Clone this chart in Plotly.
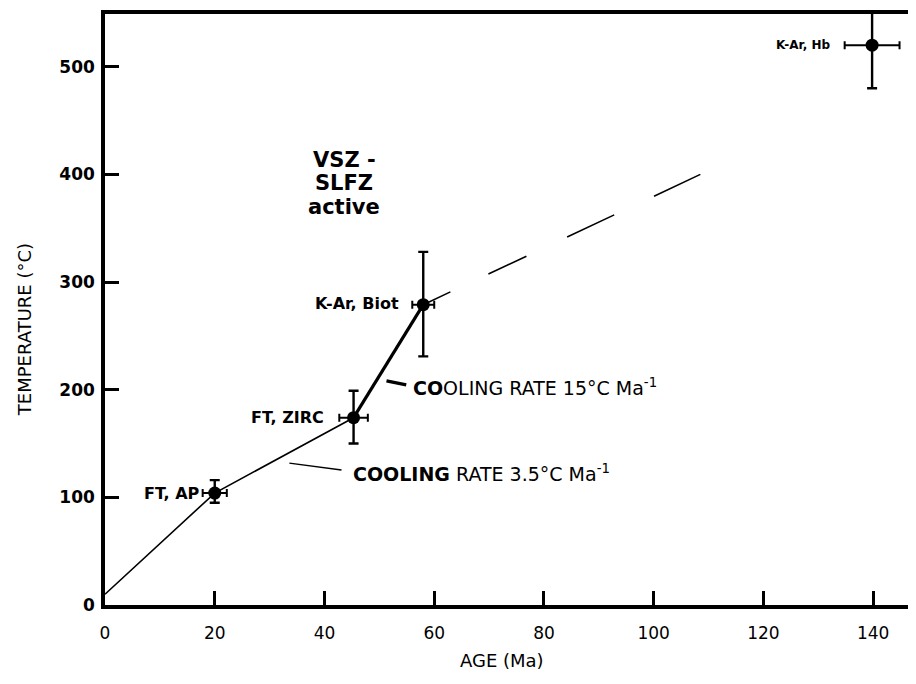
import plotly.graph_objects as go

# ---- data ----
labels = ["FT, AP", "FT, ZIRC", "K-Ar, Biot", "K-Ar, Hb"]
age = [20, 45.3, 58, 139.8]
age_err = [2.2, 2.6, 2.0, 5.0]
temp = [104, 174, 279, 520]
temp_err_plus = [12, 25, 49, 45]
temp_err_minus = [9, 24, 48, 40]

# cooling path (model lines)
slow_age = [0, 20, 45.3]
slow_temp = [10, 104, 174]
fast_age = [45.3, 58]
fast_temp = [174, 279]
extrap_age = [58, 108.5]
extrap_temp = [279, 400]

x_ticks = [0, 20, 40, 60, 80, 100, 120, 140]
y_ticks = [0, 100, 200, 300, 400, 500]

FONT = "DejaVu Sans"
fig = go.Figure()

fig.add_trace(go.Scatter(x=slow_age, y=slow_temp, mode="lines",
                         line=dict(color="black", width=1.6), hoverinfo="skip", showlegend=False))
fig.add_trace(go.Scatter(x=fast_age, y=fast_temp, mode="lines",
                         line=dict(color="black", width=3.2), hoverinfo="skip", showlegend=False))
fig.add_trace(go.Scatter(x=extrap_age, y=extrap_temp, mode="lines",
                         line=dict(color="black", width=1.6,
                                   dash="30px,42px,42px,45px,52px,44px,53px"),
                         hoverinfo="skip", showlegend=False))

fig.add_trace(go.Scatter(
    x=age, y=temp, mode="markers",
    marker=dict(color="black", size=13, symbol="circle"),
    error_y=dict(type="data", symmetric=False, array=temp_err_plus, arrayminus=temp_err_minus,
                 color="black", thickness=2.4, width=5),
    error_x=dict(type="data", array=age_err, color="black", thickness=2, width=4),
    showlegend=False, text=labels, hoverinfo="text+x+y"))

# point labels: (x, y, font size)
label_pos = [
    (17.6, 104, 16),
    (40.3, 174, 16),
    (54.0, 280, 16),
    (132.5, 520, 12),
]
for lab, (lx, ly, fs) in zip(labels, label_pos):
    fig.add_annotation(x=lx, y=ly, text=f"<b>{lab}</b>", showarrow=False, xanchor="right", yanchor="middle",
                       font=dict(family=FONT, size=fs, color="black"))

# VSZ - SLFZ active
vsz_lines = ["VSZ -", "SLFZ", "active"]
vsz_y = [413.5, 392, 370]
for t, yy in zip(vsz_lines, vsz_y):
    fig.add_annotation(x=43.6, y=yy, text=t, showarrow=False, xanchor="center", yanchor="middle",
                       font=dict(family=FONT, size=21, color="black", weight="bold"))

fig.add_annotation(x=55.8, y=202.6, text="<b>CO</b>OLING RATE 15°C Ma<sup>-1</sup>", showarrow=False,
                   xanchor="left", yanchor="middle", font=dict(family=FONT, size=19, color="black"))
fig.add_annotation(x=44.9, y=122.7, text="<b>COOLING</b> RATE 3.5°C Ma<sup>-1</sup>", showarrow=False,
                   xanchor="left", yanchor="middle", font=dict(family=FONT, size=19, color="black"))

# leader lines
leaders = [
    dict(x0=51.3, y0=208.2, x1=54.9, y1=204.5, w=3.2),
    dict(x0=33.6, y0=131.8, x1=43.1, y1=125.3, w=1.5),
]
for ld in leaders:
    fig.add_shape(type="line", xref="x", yref="y", x0=ld["x0"], y0=ld["y0"], x1=ld["x1"], y1=ld["y1"],
                  line=dict(color="black", width=ld["w"]))

# axis titles
fig.add_annotation(xref="paper", yref="paper", x=0.49, y=0, yshift=-55, text="AGE (Ma)",
                   showarrow=False, xanchor="center", yanchor="middle",
                   font=dict(family=FONT, size=18, color="black"))
fig.add_annotation(xref="paper", yref="paper", x=0, xshift=-81, y=0.465, text="TEMPERATURE (°C)",
                   textangle=-90, showarrow=False, xanchor="center", yanchor="middle",
                   font=dict(family=FONT, size=18, color="black"))

fig.update_layout(
    width=908, height=676,
    margin=dict(l=97, r=0, t=6, b=79),
    paper_bgcolor="white", plot_bgcolor="white",
    xaxis=dict(range=[0, 147.8], tickvals=x_ticks, ticktext=[str(v) for v in x_ticks],
               showgrid=False, zeroline=False, showline=True, linewidth=3.5, linecolor="black",
               mirror=True, ticks="inside", ticklen=14, tickwidth=2.5, tickcolor="black",
               ticklabelstandoff=10,
               tickfont=dict(family=FONT, size=17, color="black")),
    yaxis=dict(range=[0, 549], tickvals=y_ticks, ticktext=[str(v) for v in y_ticks],
               showgrid=False, zeroline=False, showline=True, linewidth=3.5, linecolor="black",
               ticks="inside", ticklen=14, tickwidth=3, tickcolor="black",
               ticklabelstandoff=3,
               tickfont=dict(family=FONT, size=17, color="black", weight="bold")),
)

fig.write_html("out.html")
